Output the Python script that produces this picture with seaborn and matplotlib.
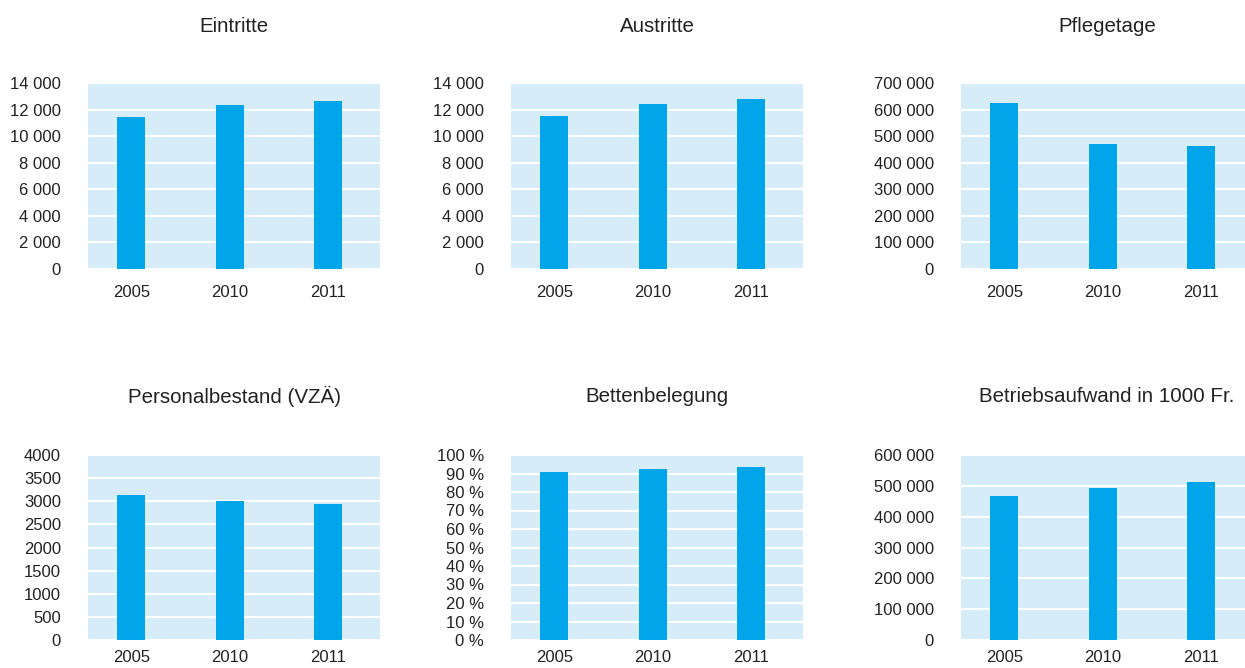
import matplotlib
matplotlib.use("Agg")
import matplotlib.pyplot as plt
import seaborn as sns
from matplotlib.ticker import FuncFormatter

years = ["2005", "2010", "2011"]

eintritte = [11460, 12370, 12670]
austritte = [11540, 12440, 12820]
pflegetage = [625800, 471300, 463700]
personal = [3135, 3005, 2940]
betten = [90.9, 92.5, 93.5]
aufwand = [467000, 493000, 512400]

titles = ["Eintritte", "Austritte", "Pflegetage",
          "Personalbestand (VZÄ)", "Bettenbelegung", "Betriebsaufwand in 1000 Fr."]
series = [eintritte, austritte, pflegetage, personal, betten, aufwand]
y_max = [14000, 14000, 700000, 4000, 100, 600000]
y_step = [2000, 2000, 100000, 500, 10, 100000]

BAR = "#00A6E9"
BG = "#D6EDF9"
TXT = "#222222"

sns.set_theme(style="white")
plt.rcParams["font.family"] = ["Liberation Sans", "DejaVu Sans"]


def fmt_space(v, pos):
    return f"{int(round(v)):,}".replace(",", " ")


def fmt_plain(v, pos):
    return f"{int(round(v))}"


def fmt_pct(v, pos):
    return f"{int(round(v))} %"


formatters = [fmt_space, fmt_space, fmt_space, fmt_plain, fmt_pct, fmt_space]

W, H = 1245, 668
fig = plt.figure(figsize=(W / 100, H / 100), dpi=100)

lefts = [88, 511, 961]
rows = [(83, 269), (455, 640)]

for i, (title, vals) in enumerate(zip(titles, series)):
    r, c = divmod(i, 3)
    top, bottom = rows[r]
    ax = fig.add_axes([lefts[c] / W, 1 - bottom / H, 292 / W, (bottom - top) / H])
    ax.set_facecolor(BG)
    sns.barplot(x=years, y=vals, ax=ax, color=BAR, saturation=1, width=0.285,
                edgecolor="none", linewidth=0)
    ax.set_xlim(-0.44, 2.53)
    ax.set_ylim(0, y_max[i])
    ticks = [k * y_step[i] for k in range(int(round(y_max[i] / y_step[i])) + 1)]
    ax.set_yticks(ticks)
    ax.yaxis.set_major_formatter(FuncFormatter(formatters[i]))
    ax.grid(axis="y", color="white", linewidth=1.5)
    ax.set_axisbelow(True)
    for s in ax.spines.values():
        s.set_visible(False)
    ax.tick_params(axis="y", length=0, pad=19.5, labelsize=12, labelcolor=TXT)
    # bottom row sits close to the figure edge, keep its year labels inside
    ax.tick_params(axis="x", length=0, pad=11.5 if r == 0 else 7.5,
                   labelsize=12, labelcolor=TXT)
    ax.set_xlabel("")
    ax.set_ylabel("")
    h = bottom - top
    gap = 56 if r == 0 else 59
    ax.text(0.5, 1 + gap / h, title, transform=ax.transAxes, ha="center",
            va="center", fontsize=14.8, color=TXT)

fig.savefig("out.png", dpi=100, facecolor="white")
